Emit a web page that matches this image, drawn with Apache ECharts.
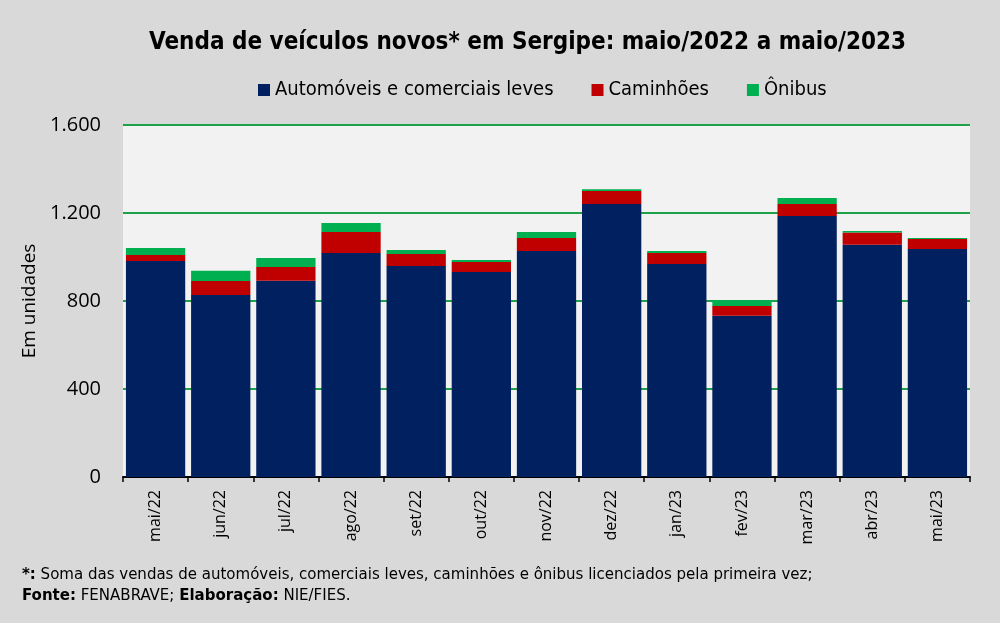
<!DOCTYPE html>
<html lang="pt-BR">
<head>
<meta charset="UTF-8">
<title>Venda de veículos novos em Sergipe</title>
<script src="https://cdn.jsdelivr.net/npm/echarts@6.0.0/dist/echarts.min.js"></script>
<style>
  html, body { margin: 0; padding: 0; background: #d9d9d9; }
  #chart { width: 1000px; height: 623px; }
</style>
</head>
<body>
<div id="chart"></div>
<script>
  // dados
  const meses = ['mai/22', 'jun/22', 'jul/22', 'ago/22', 'set/22', 'out/22', 'nov/22',
                 'dez/22', 'jan/23', 'fev/23', 'mar/23', 'abr/23', 'mai/23'];
  const automoveis = [982, 827, 892, 1018, 959, 932, 1027, 1241, 968, 733, 1186, 1056, 1036];
  const caminhoes = [27, 64, 63, 96, 55, 45, 59, 59, 50, 44, 55, 55, 46];
  const onibus = [32, 47, 40, 41, 18, 9, 28, 8, 9, 26, 27, 7, 4];
  const yTicks = [0, 400, 800, 1200, 1600];

  const narrow = "'DejaVu Sans Condensed', 'Liberation Sans Narrow', sans-serif";

  const chart = echarts.init(document.getElementById('chart'));

  function fmt(v) {
    return String(v).replace(/\B(?=(\d{3})+(?!\d))/g, '.');
  }

  chart.setOption({
    backgroundColor: '#d9d9d9',
    animation: false,
    title: {
      text: 'Venda de veículos novos* em Sergipe: maio/2022 a maio/2023',
      left: 144,
      top: 26,
      textStyle: { fontFamily: narrow, fontWeight: 'bold', fontSize: 24, color: '#000' }
    },
    legend: {
      top: 75,
      left: 253,
      itemWidth: 12,
      itemHeight: 12,
      itemGap: 38,
      icon: 'rect',
      textStyle: { fontFamily: narrow, fontSize: 20, color: '#000' },
      data: ['Automóveis e comerciais leves', 'Caminhões', 'Ônibus']
    },
    grid: {
      left: 123, right: 30, top: 125, bottom: 146,
      show: true, backgroundColor: '#f2f2f2', borderWidth: 0
    },
    xAxis: {
      type: 'category',
      data: meses,
      axisLine: { lineStyle: { color: '#000', width: 2 } },
      axisTick: { show: true, length: 5, lineStyle: { color: '#000', width: 1.5 } },
      axisLabel: {
        rotate: 90, margin: 13, color: '#000',
        fontFamily: 'Open Sans', fontSize: 16
      }
    },
    yAxis: {
      type: 'value',
      min: yTicks[0],
      max: yTicks[yTicks.length - 1],
      interval: 400,
      name: 'Em unidades',
      nameLocation: 'middle',
      nameGap: 84,
      nameTextStyle: { fontFamily: 'Open Sans', fontSize: 19, color: '#000' },
      axisLine: { show: false },
      axisTick: { show: false },
      axisLabel: {
        margin: 22, color: '#000', fontFamily: 'Open Sans', fontSize: 20,
        formatter: fmt
      },
      splitLine: { lineStyle: { color: '#1fa14a', width: 2 } }
    },
    series: [
      {
        name: 'Automóveis e comerciais leves', type: 'bar', stack: 'total',
        data: automoveis, barCategoryGap: '9%',
        itemStyle: { color: '#002060' }
      },
      {
        name: 'Caminhões', type: 'bar', stack: 'total',
        data: caminhoes,
        itemStyle: { color: '#c00000' }
      },
      {
        name: 'Ônibus', type: 'bar', stack: 'total',
        data: onibus,
        itemStyle: { color: '#00b050' }
      }
    ],
    graphic: [
      {
        type: 'text', left: 22, top: 566,
        style: {
          text: '{b|*:} Soma das vendas de automóveis, comerciais leves, caminhões e ônibus licenciados pela primeira vez;',
          fontFamily: narrow, fontSize: 16.7, fill: '#000',
          rich: { b: { fontWeight: 'bold', fontFamily: narrow, fontSize: 16.7 } }
        }
      },
      {
        type: 'text', left: 22, top: 587,
        style: {
          text: '{b|Fonte:} FENABRAVE; {b|Elaboração:} NIE/FIES.',
          fontFamily: narrow, fontSize: 16.7, fill: '#000',
          rich: { b: { fontWeight: 'bold', fontFamily: narrow, fontSize: 16.7 } }
        }
      }
    ]
  });
</script>
</body>
</html>
